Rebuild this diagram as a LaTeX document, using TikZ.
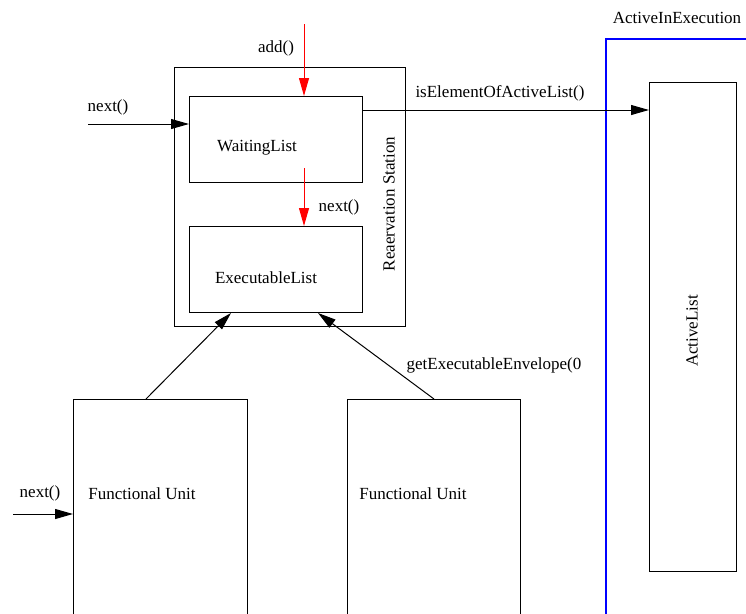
\documentclass[tikz,border=0pt]{standalone}
\usepackage{fontspec}
\setmainfont{Liberation Serif}
\usetikzlibrary{arrows.meta}

\tikzset{
	box/.style={draw, rectangle, inner sep=0pt, anchor=north west},
	lbl/.style={inner sep=0pt, font=\fontsize{17}{20}\selectfont},
	arr/.style={-{Triangle[length=18pt,width=10pt]}, line width=1pt},
	redarr/.style={arr, red}
}

\begin{document}
\begin{tikzpicture}[x=1pt, y=-1pt, line width=1pt]
			\useasboundingbox (0, 0) rectangle (746, 613);
			\clip (0, 0) rectangle (746, 613);

			% reservation station and its two lists
			\node[box, minimum width=231pt, minimum height=259pt] (rs) at (174, 67) {};
			\node[box, minimum width=173pt, minimum height=86pt] (wait) at (189, 96) {};
			\node[box, minimum width=173pt, minimum height=86pt] (exec) at (189, 226) {};
			\node[lbl] (waittxt) at (257, 148) {WaitingList};
			\node[lbl] (exectxt) at (266, 278) {ExecutableList};
			\node[lbl, rotate=90] (rstxt) at (389, 204) {Reaervation Station};

			% active list inside the blue frame
			\draw[blue, line width=2pt] (606, 700) -- (606, 39) -- (800, 39);
			\node[lbl] (aietxt) at (677, 18) {ActiveInExecution};
			\node[box, minimum width=87pt, minimum height=489pt] (active) at (649, 82) {};
			\node[lbl, rotate=90] (activetxt) at (692, 331) {ActiveList};

			% functional units
			\node[box, minimum width=174pt, minimum height=300pt] (fu1) at (73, 399) {};
			\node[box, minimum width=173pt, minimum height=300pt] (fu2) at (347, 399) {};
			\node[lbl] (fu1txt) at (142, 494) {Functional Unit};
			\node[lbl] (fu2txt) at (413, 494) {Functional Unit};

			% red arrows
			\coordinate (addin) at (304, 24);
			\coordinate (nextin) at (304, 168);
			\draw[redarr] (addin) -- (addin |- wait.north);
			\draw[redarr] (nextin) -- (nextin |- exec.north);
			\node[lbl] (addtxt) at (276, 48) {add()};
			\node[lbl] (nexttxt) at (339, 207) {next()};

			% incoming next() calls
			\coordinate (in1) at (88, 124);
			\coordinate (in2) at (13, 514);
			\draw[arr] (in1) -- (in1 -| wait.west);
			\draw[arr] (in2) -- (in2 -| fu1.west);
			\node[lbl] (in1txt) at (108, 107) {next()};
			\node[lbl] (in2txt) at (40, 493) {next()};

			% calls between the boxes
			\draw[arr] ([yshift=-14]wait.north east) -- ([yshift=-14]wait.north east -| active.west);
			\node[lbl] (isactxt) at (500, 93) {isElementOfActiveList()};
			\draw[arr] ([xshift=73]fu1.north west) -- ([xshift=42]exec.south west);
			\draw[arr] (fu2.north) -- ([xshift=-45]exec.south east);
			\node[lbl] (gettxt) at (494, 365) {getExecutableEnvelope(0};
		\end{tikzpicture}
\end{document}
